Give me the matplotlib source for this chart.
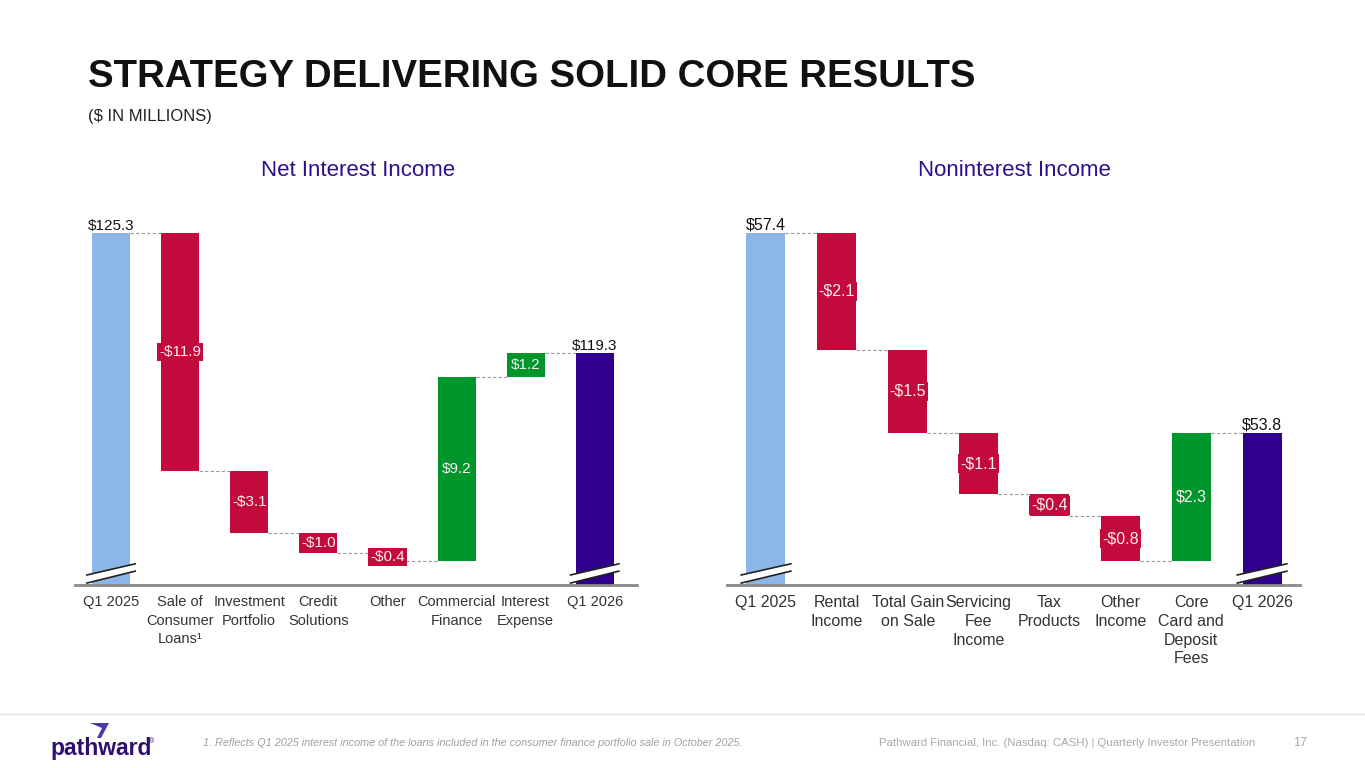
import matplotlib
matplotlib.use("Agg")
import matplotlib.pyplot as plt
from matplotlib.transforms import blended_transform_factory
from matplotlib.patches import Polygon

plt.rcParams["font.family"] = ["Liberation Sans", "DejaVu Sans"]

# Net interest income bridge
nii_labels = ["Q1 2025", "Sale of\nConsumer\nLoans¹", "Investment\nPortfolio", "Credit\nSolutions",
              "Other", "Commercial\nFinance", "Interest\nExpense", "Q1 2026"]
nii_start = 125.3
nii_deltas = [-11.9, -3.1, -1.0, -0.4, 9.2, 1.2]
nii_end = 119.3
nii_floor = 107.7

# Noninterest income bridge
noni_labels = ["Q1 2025", "Rental\nIncome", "Total Gain\non Sale", "Servicing\nFee\nIncome",
               "Tax\nProducts", "Other\nIncome", "Core\nCard and\nDeposit\nFees", "Q1 2026"]
noni_start = 57.4
noni_deltas = [-2.1, -1.5, -1.1, -0.4, -0.8, 2.3]
noni_end = 53.8
noni_floor = 51.064

START_C = "#8db6e8"
NEG_C = "#c20a3c"
POS_C = "#00962c"
END_C = "#2e008b"
TITLE_C = "#2e0f8c"


def waterfall(ax, labels, start, deltas, end, floor, top, xlim, fs, vfs, ls):
    w = 0.55
    ax.set_xlim(*xlim)
    ax.set_ylim(floor, top)
    ax.bar(0, start, width=w, color=START_C, zorder=2)
    ax.text(0, start, f"${start:.1f}", ha="center", va="bottom", fontsize=vfs, color="#111111")
    running = start
    for i, d in enumerate(deltas, start=1):
        c = NEG_C if d < 0 else POS_C
        ax.bar(i, d, bottom=running, width=w, color=c, zorder=2)
        ax.hlines(running, i - 1 + w / 2, i - w / 2, colors="#999999", linestyles=(0, (3, 2)), lw=0.8)
        lab = f"-${abs(d):.1f}" if d < 0 else f"${d:.1f}"
        ax.text(i, running + d / 2, lab, ha="center", va="center", fontsize=vfs, color="#fbeef2",
                zorder=4, bbox=dict(boxstyle="square,pad=0.12", fc=c, ec="none"))
        running += d
    last = len(deltas) + 1
    ax.hlines(running, last - 1 + w / 2, last - w / 2, colors="#999999", linestyles=(0, (3, 2)), lw=0.8)
    ax.bar(last, end, width=w, color=END_C, zorder=2)
    ax.text(last, end, f"${end:.1f}", ha="center", va="bottom", fontsize=vfs, color="#111111")

    # axis break marks on the first and last bars
    tr = blended_transform_factory(ax.transData, ax.transAxes)
    for x in (0, last):
        poly = Polygon([(x - 0.35, 0.005), (x + 0.35, 0.036), (x + 0.35, 0.055), (x - 0.35, 0.026)],
                       closed=True, fc="white", ec="none", transform=tr, zorder=5, clip_on=False)
        ax.add_patch(poly)
        ax.plot([x - 0.35, x + 0.35], [0.005, 0.036], color="#222222", lw=1.2, transform=tr, zorder=6, clip_on=False)
        ax.plot([x - 0.35, x + 0.35], [0.026, 0.055], color="#222222", lw=1.2, transform=tr, zorder=6, clip_on=False)

    ax.set_xticks(range(last + 1))
    ax.set_xticklabels(labels, fontsize=fs, color="#333333", linespacing=ls)
    ax.tick_params(axis="x", length=0, pad=7.5)
    ax.set_yticks([])
    for s in ("top", "right", "left"):
        ax.spines[s].set_visible(False)
    ax.spines["bottom"].set_color("#888888")
    ax.spines["bottom"].set_linewidth(2)
    ax.spines["bottom"].set_zorder(7)


fig = plt.figure(figsize=(13.65, 7.68), dpi=100)

ax1 = fig.add_axes([75 / 1365, 1 - 585 / 768, 562 / 1365, 385 / 768])
waterfall(ax1, nii_labels, nii_start, nii_deltas, nii_end, nii_floor, nii_floor + 385 / 20.0,
          (-0.521, 7.612), 10.5, 11, 1.4)

ax2 = fig.add_axes([727 / 1365, 1 - 585 / 768, 573 / 1365, 385 / 768])
waterfall(ax2, noni_labels, noni_start, noni_deltas, noni_end, noni_floor, noni_floor + 385 / 55.56,
          (-0.55, 7.536), 11.5, 11.5, 1.3)

fig.text(88 / 1365, 1 - 77 / 768, "STRATEGY DELIVERING SOLID CORE RESULTS", fontsize=27.6, fontweight="bold",
         color="#111111", va="center", ha="left")
fig.text(88 / 1365, 1 - 116 / 768, "($ IN MILLIONS)", fontsize=12, color="#222222", va="center", ha="left")
fig.text(358 / 1365, 1 - 170 / 768, "Net Interest Income", fontsize=16, color=TITLE_C, ha="center", va="center")
fig.text(1014 / 1365, 1 - 170 / 768, "Noninterest Income", fontsize=16, color=TITLE_C, ha="center", va="center")

# footer
fig.add_artist(plt.Line2D([0, 1], [1 - 714 / 768, 1 - 714 / 768], color="#e3e3e3", lw=1))
fig.text(203 / 1365, 1 - 743 / 768,
         "1. Reflects Q1 2025 interest income of the loans included in the consumer finance portfolio sale in October 2025.",
         fontsize=7.85, style="italic", color="#a0a0a0", va="center", ha="left")
fig.text(1255 / 1365, 1 - 743 / 768, "Pathward Financial, Inc. (Nasdaq: CASH) | Quarterly Investor Presentation",
         fontsize=8.2, color="#a8a8a8", va="center", ha="right")
fig.text(1300 / 1365, 1 - 743 / 768, "17", fontsize=9, color="#a8a8a8", va="center", ha="center")

# logo
fig.text(50 / 1365, 1 - 748 / 768, "pathward", fontsize=16.5, fontweight="bold", color="#2e0f6e", va="center", ha="left")
fig.text(149 / 1365, 1 - 742 / 768, "®", fontsize=5, color="#2e0f6e", va="center", ha="left")
fig.add_artist(Polygon([(90 / 1365, 1 - 723 / 768), (109 / 1365, 1 - 723 / 768), (101 / 1365, 1 - 738 / 768),
                        (97 / 1365, 1 - 738 / 768), (102 / 1365, 1 - 728 / 768)],
                       closed=True, fc="#4a3aa8", ec="none", transform=fig.transFigure))

fig.savefig("out.png", dpi=100)
